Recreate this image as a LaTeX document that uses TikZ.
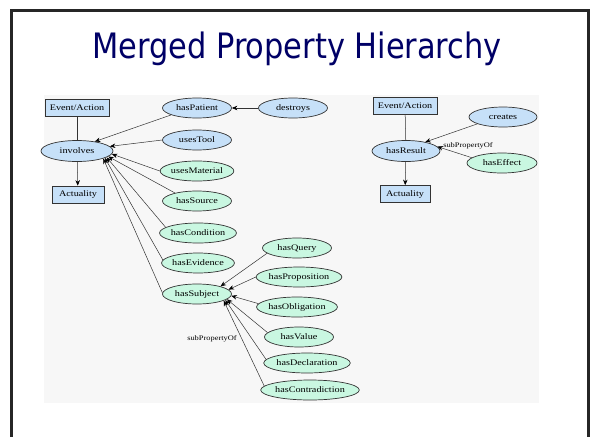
\documentclass[tikz,border=0pt]{standalone}
\usepackage{fontspec}
\newfontfamily\titlefont[FakeStretch=0.87]{DejaVu Sans}
\newfontfamily\labfont[FakeStretch=1.2]{Liberation Serif}
\usetikzlibrary{shapes.geometric,arrows.meta}
\definecolor{navy}{HTML}{000066}
\definecolor{boxblue}{HTML}{C6E0F8}
\definecolor{mint}{HTML}{C9F7E1}
\definecolor{bggray}{HTML}{F7F7F7}
\definecolor{edgecol}{HTML}{333333}
\begin{document}
\begin{tikzpicture}[x=1pt,y=-1pt,
  base/.style={draw=edgecol, line width=0.7pt, inner sep=0pt, font=\labfont\fontsize{8.5}{9}\selectfont},
  cls/.style={base, rectangle, fill=boxblue, minimum height=17pt},
  bprop/.style={base, ellipse, fill=boxblue, minimum width=69pt, minimum height=20pt},
  gprop/.style={base, ellipse, fill=mint, minimum width=69pt, minimum height=20pt},
  link/.style={draw=edgecol, line width=0.5pt},
  arr/.style={link, -{Stealth[length=5.5pt,width=4.5pt,color=black]}},
  lbl/.style={font=\labfont\fontsize{7}{8}\selectfont, inner sep=0pt}
  ]
\useasboundingbox (0,0) rectangle (590,437);
\fill[white] (0,0) rectangle (590,437);
\fill[bggray] (44,95) rectangle (539,403);
\draw[line width=2.5pt, color=black!85] (11.5,437) -- (11.5,10.5) -- (588.5,10.5) -- (588.5,437);
\node[font=\titlefont\fontsize{35}{40}\selectfont, text=navy, anchor=base, inner sep=0pt] (title) at (297,58) {Merged Property Hierarchy};

% left group
\node[cls, minimum width=64pt] (ea1) at (77,107.5) {Event/Action};
\node[bprop, minimum width=72pt, minimum height=21pt] (involves) at (77,151) {involves};
\node[cls, minimum width=52pt] (act1) at (78,194.5) {Actuality};
\node[bprop] (hasPatient) at (197,108) {hasPatient};
\node[bprop] (destroys) at (293,108) {destroys};
\node[bprop] (usesTool) at (197,140) {usesTool};
\node[gprop] (usesMaterial) at (197,171) {usesMaterial};
\node[gprop] (hasSource) at (197,201) {hasSource};
\node[gprop] (hasCondition) at (198,233) {hasCondition};
\node[gprop] (hasEvidence) at (198,263) {hasEvidence};
\node[gprop] (hasSubject) at (197,294) {hasSubject};
\node[gprop] (hasQuery) at (297,248) {hasQuery};
\node[gprop, minimum width=73pt] (hasProposition) at (299,277) {hasProposition};
\node[gprop, minimum width=73pt] (hasObligation) at (297,307) {hasObligation};
\node[gprop] (hasValue) at (299,337) {hasValue};
\node[gprop, minimum width=80pt] (hasDeclaration) at (307,363) {hasDeclaration};
\node[gprop, minimum width=84pt] (hasContradiction) at (310,390) {hasContradiction};
\node[lbl] (sub1) at (212,339) {subPropertyOf};

\draw[link] (ea1) -- (involves);
\draw[arr] (involves) -- (act1);
\draw[arr] (destroys) -- (hasPatient);
\draw[arr] (hasPatient.195) -- (involves.28);
\draw[arr] (usesTool.west) -- (involves.8);
\draw[arr] (usesMaterial.west) -- (involves.-5);
\draw[arr] (hasSource.160) -- (involves.-10);
\draw[arr] (hasCondition.170) -- (involves.-12);
\draw[arr] (hasEvidence.175) -- (involves.-14);
\draw[arr] (hasSubject.178) -- (involves.-16);

\draw[arr] (hasQuery.190) -- (hasSubject.18);
\draw[arr] (hasProposition.west) -- (hasSubject.8);
\draw[arr] (hasObligation.175) -- (hasSubject.-3);
\draw[arr] (hasValue.172) -- (hasSubject.-10);
\draw[arr] (hasDeclaration.175) -- (hasSubject.-12);
\draw[arr] (hasContradiction.175) -- (hasSubject.-14);

% right group
\node[cls, minimum width=64pt] (ea2) at (405,105.5) {Event/Action};
\node[bprop, minimum width=68pt, minimum height=21pt] (hasResult) at (406,151) {hasResult};
\node[cls, minimum width=50pt] (act2) at (405,194) {Actuality};
\node[bprop, minimum width=68pt] (creates) at (503,117) {creates};
\node[gprop, minimum width=70pt] (hasEffect) at (502,163) {hasEffect};
\node[lbl] (sub2) at (468,146) {subPropertyOf};

\draw[link] (ea2) -- (hasResult);
\draw[arr] (hasResult) -- (act2);
\draw[arr] (creates.195) -- (hasResult.25);
\draw[arr] (hasEffect.170) -- (hasResult.8);
\end{tikzpicture}
\end{document}
